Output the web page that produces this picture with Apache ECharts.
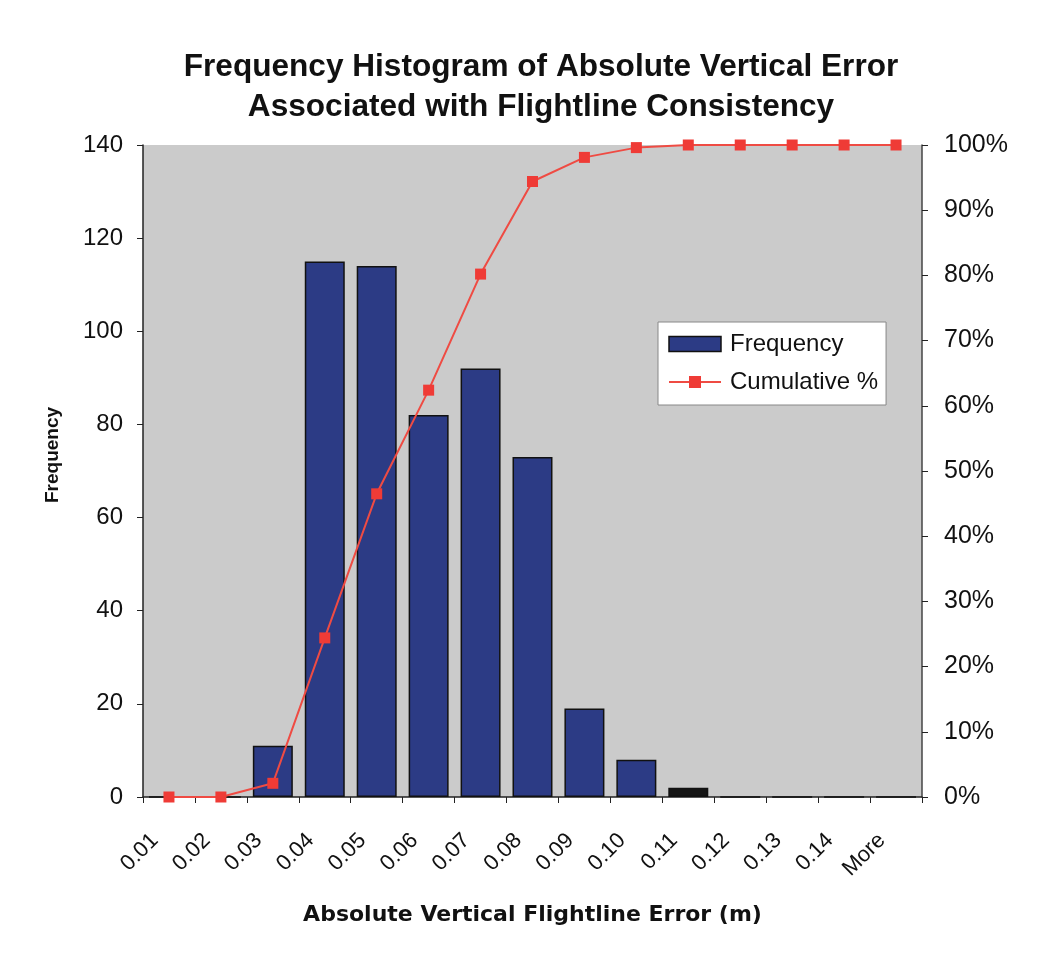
<!DOCTYPE html>
<html><head><meta charset="utf-8">
<script src="https://cdn.jsdelivr.net/npm/echarts@6/dist/echarts.min.js"></script>
<style>html,body{margin:0;padding:0;background:#fff}#c{width:1053px;height:954px}</style>
</head><body><div id="c"></div>
<script>
var categories = ['0.01','0.02','0.03','0.04','0.05','0.06','0.07','0.08','0.09','0.10','0.11','0.12','0.13','0.14','More'];
var frequency = [0,0,11,115,114,82,92,73,19,8,2,0,0,0,0];
var cumulative = [0,0,2.1,24.4,46.5,62.4,80.2,94.4,98.1,99.6,100,100,100,100,100];
var leftTicks = [0,20,40,60,80,100,120,140];
var rightTicks = [0,10,20,30,40,50,60,70,80,90,100];

var font = 'Liberation Sans, Arial, sans-serif';
var barColor = '#2c3b85';
var chart = echarts.init(document.getElementById('c'));
chart.setOption({
  backgroundColor: '#fff',
  animation: false,
  title: {
    text: 'Frequency Histogram of Absolute Vertical Error\nAssociated with Flightline Consistency',
    left: 536, top: 42, textAlign: 'center',
    textStyle: {fontFamily: font, fontSize: 31.6, fontWeight: 'bold', color: '#111', lineHeight: 40}
  },
  graphic: [{
    type: 'text', x: 53, y: 455, rotation: Math.PI / 2,
    style: {text: 'Frequency', align: 'center', verticalAlign: 'middle',
      fontFamily: font, fontSize: 19, fontWeight: 'bold', fill: '#111'}
  }],
  legend: {
    data: [
      {name: 'Frequency', icon: 'rect', itemStyle: {color: barColor, borderColor: '#111', borderWidth: 1.5}},
      {name: 'Cumulative %'}
    ],
    orient: 'vertical',
    left: 658, top: 322,
    backgroundColor: '#fff',
    borderColor: '#888', borderWidth: 1,
    padding: [10, 8, 11, 10],
    itemGap: 14,
    itemWidth: 52, itemHeight: 15,
    textStyle: {fontFamily: font, fontSize: 24, color: '#111', padding: [0, 0, 0, 4]}
  },
  grid: {left: 143, right: 131, top: 145, bottom: 157, show: true, backgroundColor: '#cbcbcb', borderWidth: 0},
  xAxis: {
    type: 'category', data: categories, boundaryGap: true,
    name: 'Absolute Vertical Flightline Error (m)', nameLocation: 'middle', nameGap: 107,
    nameTextStyle: {fontFamily: 'DejaVu Sans, sans-serif', fontSize: 22, fontWeight: 'bold', color: '#111'},
    axisLine: {lineStyle: {color: '#222', width: 1.5}},
    axisTick: {show: true, alignWithLabel: false, length: 6, lineStyle: {color: '#222'}},
    axisLabel: {rotate: 45, fontFamily: font, fontSize: 22, color: '#111', margin: 26, interval: 0, padding: [0, 20, 0, 0]}
  },
  yAxis: [{
    type: 'value', min: 0, max: 140, interval: 20,
    axisLine: {show: true, lineStyle: {color: '#222', width: 1.5}},
    axisTick: {show: true, length: 6, lineStyle: {color: '#222'}},
    splitLine: {show: false},
    axisLabel: {fontFamily: font, fontSize: 24, color: '#111', margin: 20}
  }, {
    type: 'value', min: 0, max: 100, interval: 10, position: 'right',
    axisLine: {show: true, lineStyle: {color: '#444', width: 1.5}},
    axisTick: {show: true, length: 6, lineStyle: {color: '#222'}},
    splitLine: {show: false},
    axisLabel: {fontFamily: font, fontSize: 25, color: '#111', margin: 22, formatter: '{value}%'}
  }],
  series: [{
    name: 'Frequency', type: 'bar', data: frequency, yAxisIndex: 0,
    barCategoryGap: '23%',
    itemStyle: {
      color: function (p) { return p.value < 5 ? '#151515' : barColor; },
      borderColor: '#111', borderWidth: 1.5
    }
  }, {
    name: 'Cumulative %', type: 'line', data: cumulative, yAxisIndex: 1,
    symbol: 'rect', symbolSize: 11,
    lineStyle: {color: '#ef4b43', width: 2},
    itemStyle: {color: '#ef3b36'}
  }]
});
</script></body></html>
